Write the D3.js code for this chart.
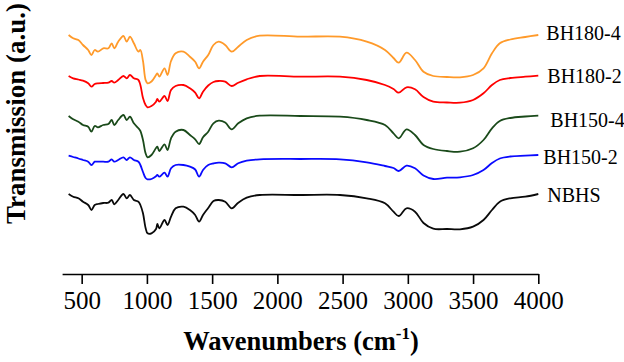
<!DOCTYPE html>
<html>
<head>
<meta charset="utf-8">
<script src="https://cdn.jsdelivr.net/npm/d3@7"></script>
<style>
  body { margin: 0; background: #fff; }
  svg text { font-family: "Liberation Serif", Tinos, "Times New Roman", Times, "DejaVu Serif", serif; }
</style>
</head>
<body>
<div id="chart"></div>
<script>
// wavenumbers (cm-1) shared by all spectra
const wavenumbers = [400, 435, 475, 510, 550, 575, 600, 625, 665, 705, 730, 750, 780, 820, 845, 870, 900, 935, 950, 970,
  990, 1005, 1035, 1070, 1080, 1095, 1135, 1158, 1185, 1220, 1280, 1330, 1370, 1400, 1430, 1470, 1510, 1550, 1600, 1650,
  1700, 1765, 1865, 2175, 2480, 2685, 2825, 2890, 2930, 2990, 3055, 3120, 3195, 3300, 3400, 3500, 3580, 3645, 3705, 3785,
  3900, 4000];

// transmission (a.u., offset spectra)
const bh180_4 = [239, 235.7, 234, 229, 224, 219, 224, 222.3, 225.7, 225.7, 230.7, 225.7, 232.3, 238, 232.3, 237.3, 230.7, 222.3, 224, 213,
  194, 190.7, 192.5, 199, 200.7, 197.3, 205.7, 199, 213, 220.7, 222.3, 217.3, 212.3, 205.7, 212.3, 219, 229, 232.3, 229, 222.3,
  227.3, 234, 238.3, 237.3, 237.3, 232.3, 224, 216, 211.3, 221.3, 214, 202.3, 198, 197, 196.7, 199, 205.7, 220.7, 230.7, 234.5,
  237, 239];
const bh180_2 = [198, 195.7, 194.5, 193.3, 190.7, 187.3, 190, 190.7, 191, 191.3, 193, 191.3, 194, 198, 195.7, 199, 195.7, 194, 189, 176,
  169, 166.7, 168, 172.3, 175, 172.3, 178, 173, 184, 188, 189, 185.7, 181.3, 175.7, 182.3, 188.5, 192, 193, 192.3, 188,
  191.3, 194.7, 198, 197.3, 197.3, 194, 189, 185, 181.3, 186.7, 184.7, 177, 172.3, 171.5, 171.3, 174, 180.7, 189, 194, 196,
  197.3, 198.3];
const bh150_4 = [158, 154.7, 152.3, 149, 147.3, 142.3, 148, 146.7, 149, 150, 154, 149, 154, 159, 154, 157.3, 150.7, 145.7, 143, 134,
  120.7, 116.7, 119, 126, 127.3, 123, 129.7, 124, 135.7, 142.3, 144, 139, 134.7, 130, 136.7, 142.3, 150.7, 153.3, 151.5, 144.7,
  150.7, 155.7, 158.3, 158, 157.3, 154, 149, 140.7, 135.7, 144.7, 139, 129, 125, 123, 122.3, 125.7, 134, 145.7, 153, 156,
  157.5, 158.3];
const bh150_2 = [118.3, 117, 115.5, 114, 112.3, 109, 112.3, 112.3, 112.3, 112.3, 114.7, 112.3, 114, 116.7, 114, 116.7, 114, 112.3, 109, 102,
  96, 94.7, 95, 97.7, 99, 97.3, 101.3, 97.3, 105.7, 109, 109, 107.3, 104.5, 97.3, 104, 109, 110.5, 111.3, 110.7, 106.7,
  110.7, 113.3, 114.7, 115, 114.7, 111.7, 108, 106, 103, 108.3, 105.7, 98.5, 95, 96.3, 96.7, 99, 104, 111, 115.5, 117.5,
  118.3, 119];
const nbhs = [80, 77.3, 75.7, 72.3, 69, 64, 69, 70, 71, 71.3, 74, 69.7, 74, 80, 75.7, 79, 74, 72.3, 69, 60.7,
  46, 40.7, 40.7, 45, 50, 45.7, 54, 49, 57.3, 65.7, 67.3, 64, 59, 52.3, 59, 66, 73, 74, 72.3, 65.7,
  71.3, 76.3, 79, 79, 79, 75.7, 70.7, 62.3, 58, 65.7, 62.3, 51, 45.3, 45, 44.7, 47.3, 54, 64, 72.3, 75.7,
  77.3, 80];

const seriesNames = ["BH180-4", "BH180-2", "BH150-4", "BH150-2", "NBHS"];
const seriesValues = [bh180_4, bh180_2, bh150_4, bh150_2, nbhs];
const seriesColors = ["#ff9a2a", "#ff0000", "#1a4a1a", "#0a0aff", "#0a0a0a"];
const xTicks = [500, 1000, 1500, 2000, 2500, 3000, 3500, 4000];

// label nudges relative to the end of each spectrum
const labelDx = [8, 9, 12, 5, 9];
const labelDy = [5, 7, 11, 9, 8];

const width = 624, height = 362;
const serif = "'Liberation Serif', Tinos, 'Times New Roman', Times, 'DejaVu Serif', serif";

const svg = d3.select("#chart")
  .append("svg")
  .attr("width", width)
  .attr("height", height);

const x = d3.scaleLinear()
  .domain([350, 4000])
  .range([62.1, 538.3]);

const y = d3.scaleLinear()
  .domain([0, 250])
  .range([274, 24]);

// x axis
const xAxis = svg.append("g")
  .attr("transform", `translate(0,${y(0)})`)
  .call(d3.axisBottom(x)
    .tickValues(xTicks)
    .tickSize(10)
    .tickSizeOuter(0)
    .tickPadding(7.5)
    .tickFormat(d3.format("d")));

xAxis.attr("font-family", serif).attr("font-size", 25);
xAxis.select(".domain").attr("stroke", "#000").attr("stroke-width", 1.6);
xAxis.selectAll(".tick line").attr("stroke", "#000").attr("stroke-width", 1.6);
xAxis.selectAll(".tick text").attr("fill", "#000");

// spectra
const line = d3.line()
  .x((d, i) => x(wavenumbers[i]))
  .y(d => y(d))
  .curve(d3.curveCatmullRom.alpha(0.5));

svg.append("g")
  .selectAll("path")
  .data(seriesValues)
  .join("path")
  .attr("fill", "none")
  .attr("stroke", (d, i) => seriesColors[i])
  .attr("stroke-width", 1.8)
  .attr("stroke-linejoin", "round")
  .attr("d", line);

// series labels at the right end
svg.append("g")
  .attr("font-family", serif)
  .attr("font-size", 20)
  .selectAll("text")
  .data(seriesNames)
  .join("text")
  .attr("x", (d, i) => x(wavenumbers[wavenumbers.length - 1]) + labelDx[i])
  .attr("y", (d, i) => y(seriesValues[i][seriesValues[i].length - 1]) + labelDy[i])
  .attr("fill", "#000")
  .text(d => d);

// axis titles
const xTitle = svg.append("text")
  .attr("x", 301)
  .attr("y", 350)
  .attr("text-anchor", "middle")
  .attr("fill", "#000")
  .attr("font-family", serif)
  .attr("font-size", 26.5)
  .attr("font-weight", "bold");
xTitle.append("tspan").text("Wavenumbers (cm");
xTitle.append("tspan").attr("dy", -11).attr("font-size", 17).text("-1");
xTitle.append("tspan").attr("dy", 11).text(")");

svg.append("text")
  .attr("transform", "translate(25,113.5) rotate(-90)")
  .attr("text-anchor", "middle")
  .attr("fill", "#000")
  .attr("font-family", serif)
  .attr("font-size", 27)
  .attr("font-weight", "bold")
  .text("Transmission (a.u.)");
</script>
</body>
</html>
